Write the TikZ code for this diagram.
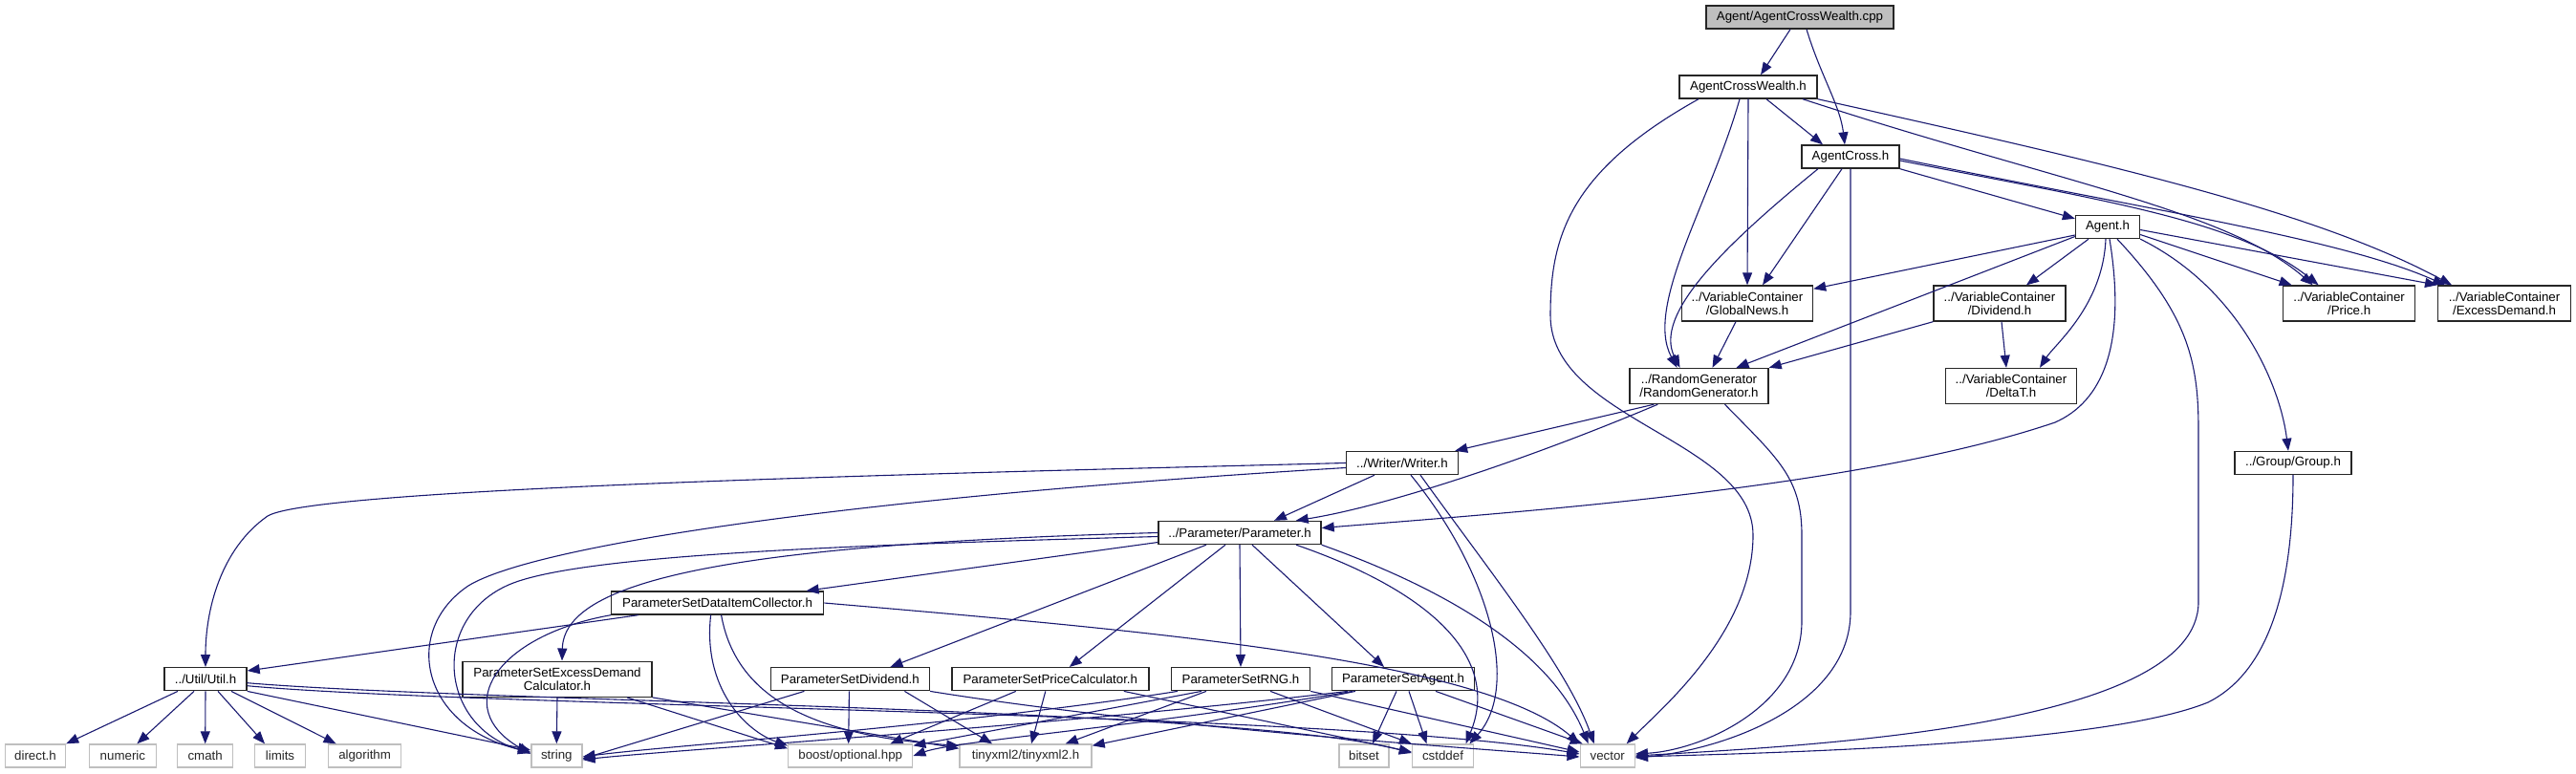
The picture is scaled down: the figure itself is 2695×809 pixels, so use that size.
\documentclass[tikz,border=0pt]{standalone}
\usepackage{fontspec}
\setmainfont{Liberation Sans}
\usetikzlibrary{arrows.meta}
\definecolor{dxEdge}{HTML}{191970}
\definecolor{dxGrey}{HTML}{BFBFBF}
\tikzset{
  dxnode/.style={
    draw, minimum height=24pt, inner sep=2pt, align=center,
    font=\fontsize{13.3}{14}\selectfont, line width=1.4pt
  },
  hdr/.style={dxnode, draw=black!85, fill=white},
  hdrtwo/.style={hdr, minimum height=37pt},
  rootfile/.style={dxnode, draw=black!85, fill=dxGrey},
  sysinc/.style={dxnode, draw=dxGrey, fill=white, text=black!85},
  incl/.style={draw=dxEdge, line width=1.1pt, -{Triangle[length=13pt,width=10pt]}}
}
\begin{document}
\begin{tikzpicture}[x=1pt, y=-1pt]
  \useasboundingbox (0,0) rectangle (2695,809);
  % headers
  \node[rootfile, minimum width=196pt] (root) at (1883,18) {Agent/AgentCrossWealth.cpp};
  \node[hdr, minimum width=144pt] (acw) at (1829,91) {AgentCrossWealth.h};
  \node[hdr, minimum width=102pt] (ac) at (1936,164) {AgentCross.h};
  \node[hdr, minimum width=67pt] (agent) at (2205,237.5) {Agent.h};
  \node[hdrtwo, minimum width=137pt] (gnews) at (1828,317.5) {../VariableContainer\\/GlobalNews.h};
  \node[hdrtwo, minimum width=138pt] (divd) at (2092,317.5) {../VariableContainer\\/Dividend.h};
  \node[hdrtwo, minimum width=138pt] (price) at (2457.6,317.5) {../VariableContainer\\/Price.h};
  \node[hdrtwo, minimum width=139pt] (exdem) at (2620,317.5) {../VariableContainer\\/ExcessDemand.h};
  \node[hdrtwo, minimum width=145pt] (rng) at (1777.5,404) {../RandomGenerator\\/RandomGenerator.h};
  \node[hdrtwo, minimum width=137pt] (deltat) at (2104,404) {../VariableContainer\\/DeltaT.h};
  \node[hdr, minimum width=117pt] (writer) at (1467,484.5) {../Writer/Writer.h};
  \node[hdr, minimum width=122pt] (group) at (2399,484.5) {../Group/Group.h};
  \node[hdr, minimum width=170pt] (param) at (1297,557.5) {../Parameter/Parameter.h};
  \node[hdr, minimum width=222pt] (psdic) at (750.6,631) {ParameterSetDataItemCollector.h};
  \node[hdr, minimum width=86pt] (util) at (215,710.7) {../Util/Util.h};
  \node[hdrtwo, minimum width=198pt] (psedc) at (583,710.7) {ParameterSetExcessDemand\\Calculator.h};
  \node[hdr, minimum width=166pt] (psdiv) at (889.4,710.7) {ParameterSetDividend.h};
  \node[hdr, minimum width=206pt] (pspc) at (1098.8,710.7) {ParameterSetPriceCalculator.h};
  \node[hdr, minimum width=145pt] (psrng) at (1298,710.7) {ParameterSetRNG.h};
  \node[hdr, minimum width=149pt] (psag) at (1468,710.7) {ParameterSetAgent.h};
  % system includes
  \node[sysinc, minimum width=63pt] (directh) at (37,791) {direct.h};
  \node[sysinc, minimum width=70pt] (numeric) at (128.4,791) {numeric};
  \node[sysinc, minimum width=58pt] (cmath) at (214.7,791) {cmath};
  \node[sysinc, minimum width=53pt] (limits) at (293,791) {limits};
  \node[sysinc, minimum width=76pt] (algorithm) at (381.6,791) {algorithm};
  \node[sysinc, minimum width=53pt] (string) at (582.3,791) {string};
  \node[sysinc, minimum width=130pt] (boost) at (889.7,791) {boost/optional.hpp};
  \node[sysinc, minimum width=138pt] (tinyxml) at (1073,791) {tinyxml2/tinyxml2.h};
  \node[sysinc, minimum width=52pt] (bitset) at (1427,791) {bitset};
  \node[sysinc, minimum width=64pt] (cstddef) at (1509.5,791) {cstddef};
  \node[sysinc, minimum width=57pt] (vector) at (1681.7,791) {vector};

  % upper part
  \draw[incl] ([xshift=-10pt]root.south) -- ([xshift=13pt]acw.north);
  \draw[incl] ([xshift=7pt]root.south) .. controls (1905,80) and (1925,110) .. ([xshift=-6pt]ac.north);
  \draw[incl] ([xshift=19pt]acw.south) -- ([xshift=-29pt]ac.north);
  \draw[incl] (acw.south) -- (gnews.north);
  \draw[incl] ([xshift=-9pt]acw.south) .. controls (1790,210) and (1720,320) .. ([xshift=-23pt]rng.north);
  \draw[incl] ([xshift=-52pt]acw.south) .. controls (1640,180) and (1622,250) .. (1622,330)
    .. controls (1622,440) and (1834,460) .. (1834,560)
    .. controls (1834,660) and (1740,740) .. ([xshift=20pt]vector.north);
  \draw[incl] ([xshift=57pt]acw.south) .. controls (2150,190) and (2330,220) .. ([xshift=-38pt]price.north);
  \draw[incl] (acw.south east) .. controls (2200,170) and (2420,220) .. ([xshift=-55pt]exdem.north);
  \draw[incl] (ac.south east) -- ([yshift=-4pt]agent.north west);
  \draw[incl] ([xshift=-9pt]ac.south) -- ([xshift=16pt]gnews.north);
  \draw[incl] ([xshift=-34pt]ac.south) .. controls (1800,260) and (1730,330) .. ([xshift=-20pt]rng.north);
  \draw[incl] (ac.south) -- (1936,640) .. controls (1936,740) and (1800,785) .. ([yshift=-2pt]vector.east);
  \draw[incl] ([yshift=-4pt]ac.east) .. controls (2200,210) and (2340,230) .. ([xshift=-32pt]price.north);
  \draw[incl] ([yshift=-2pt]ac.east) .. controls (2250,220) and (2450,250) .. ([xshift=-62pt]exdem.north);
  \draw[incl] ([yshift=-8.5pt]agent.west) -- ([yshift=-4pt]gnews.north east);
  \draw[incl] ([yshift=-10pt]agent.west) -- ([xshift=39pt]rng.north);
  \draw[incl] ([xshift=-20pt]agent.south) -- ([xshift=28pt]divd.north);
  \draw[incl] ([xshift=-2pt]agent.south) .. controls (2200,320) and (2150,360) .. ([xshift=30pt]deltat.north);
  \draw[incl] ([xshift=2pt]agent.south) .. controls (2225,360) and (2200,420) .. (2150,442)
    .. controls (1950,510) and (1600,535) .. ([yshift=5pt]param.east);
  \draw[incl] ([xshift=10pt]agent.south) .. controls (2290,330) and (2300,380) .. (2300,450)
    -- (2300,630) .. controls (2300,760) and (1900,780) .. (vector.east);
  \draw[incl] (agent.south east) .. controls (2340,300) and (2385,400) .. ([xshift=-5pt]group.north);
  \draw[incl] ([yshift=-8pt]agent.east) -- ([xshift=-60pt]price.north);
  \draw[incl] ([yshift=-3pt]agent.east) -- ([xshift=-70pt]exdem.north);
  \draw[incl] ([xshift=-12pt]gnews.south) -- ([xshift=14pt]rng.north);
  \draw[incl] (divd.south west) -- (rng.north east);
  \draw[incl] ([xshift=2pt]divd.south) -- ([xshift=-5pt]deltat.north);
  \draw[incl] ([xshift=26pt]rng.south west) -- ([xshift=-4pt]writer.north east);
  \draw[incl] ([xshift=30pt]rng.south west) .. controls (1600,480) and (1450,530) .. ([xshift=-27pt]param.north east);
  \draw[incl] ([xshift=27pt]rng.south) .. controls (1860,480) and (1885,500) .. (1885,560)
    -- (1885,650) .. controls (1885,740) and (1780,785) .. ([yshift=2pt]vector.east);
  \draw[incl] (group.south) .. controls (2399,600) and (2380,700) .. (2310,735)
    .. controls (2200,780) and (1850,788) .. ([yshift=-1pt]vector.east);

  % writer and parameter
  \draw[incl] ([xshift=-29pt]writer.south) -- ([xshift=36pt]param.north);
  \draw[incl] (writer.west) .. controls (1000,495) and (330,510) .. (280,540)
    .. controls (230,575) and (215,640) .. (util.north);
  \draw[incl] ([yshift=-5pt]writer.west) .. controls (900,520) and (560,570) .. (490,613)
    .. controls (420,660) and (440,760) .. ([yshift=4pt]string.west);
  \draw[incl] ([xshift=9pt]writer.south) .. controls (1560,600) and (1590,720) .. ([xshift=28pt]cstddef.north);
  \draw[incl] ([xshift=19pt]writer.south) .. controls (1560,600) and (1640,700) .. ([xshift=-14pt]vector.north);
  \draw[incl] ([yshift=-4pt]param.west) .. controls (900,570) and (600,580) .. (530,613)
    .. controls (450,650) and (460,760) .. ([yshift=3pt]string.west);
  \draw[incl] (param.west) .. controls (750,570) and (590,610) .. ([xshift=5pt]psedc.north);
  \draw[incl] ([yshift=-10pt]param.west) -- ([xshift=93pt]psdic.north);
  \draw[incl] ([xshift=-35pt]param.south) -- ([xshift=42pt]psdiv.north);
  \draw[incl] ([xshift=-15pt]param.south) -- ([xshift=20pt]pspc.north);
  \draw[incl] (param.south) -- (psrng.north);
  \draw[incl] ([xshift=13pt]param.south) -- ([xshift=-20pt]psag.north);
  \draw[incl] ([xshift=59pt]param.south) .. controls (1500,620) and (1570,690) .. ([xshift=24pt]cstddef.north);
  \draw[incl] (param.south east) .. controls (1550,630) and (1630,700) .. ([xshift=-20pt]vector.north);

  % parameter sets
  \draw[incl] ([xshift=-83pt]psdic.south) -- ([yshift=-4pt]util.north east);
  \draw[incl] (psdic.south west) .. controls (520,665) and (470,740) .. ([yshift=2pt]string.west);
  \draw[incl] (psdic.east) .. controls (1200,660) and (1550,690) .. (vector.north west);
  \draw[incl] ([xshift=-7pt]psdic.south) .. controls (735,720) and (780,765) .. ([yshift=-2pt]boost.north west);
  \draw[incl] ([xshift=4pt]psdic.south) .. controls (770,730) and (850,770) .. ([yshift=-2pt]tinyxml.north west);
  \draw[incl] (psedc.south) -- (string.north);
  \draw[incl] ([xshift=73pt]psedc.south) -- ([yshift=-5pt]boost.north west);
  \draw[incl] (psedc.south east) -- ([yshift=-5pt]tinyxml.north west);
  \draw[incl] ([xshift=-48pt]psdiv.south) -- ([yshift=-3pt]string.east);
  \draw[incl] ([xshift=-1pt]psdiv.south) -- ([xshift=-2pt]boost.north);
  \draw[incl] ([xshift=57pt]psdiv.south) -- ([xshift=-35pt]tinyxml.north);
  \draw[incl] (psdiv.south east) .. controls (1200,760) and (1500,780) .. ([yshift=-1pt]vector.west);
  \draw[incl] ([xshift=-36pt]pspc.south) -- ([xshift=-24pt]boost.north east);
  \draw[incl] ([xshift=-5pt]pspc.south) -- ([xshift=6pt]tinyxml.north);
  \draw[incl] ([xshift=77pt]pspc.south) -- ([yshift=4pt]cstddef.west);
  \draw[incl] ([xshift=-66pt]psrng.south) .. controls (1000,760) and (700,780) .. ([yshift=-1pt]string.east);
  \draw[incl] ([xshift=-41pt]psrng.south) -- ([yshift=-2pt]boost.north east);
  \draw[incl] ([xshift=-36pt]psrng.south) -- ([xshift=-28pt]tinyxml.north east);
  \draw[incl] ([xshift=31pt]psrng.south) -- (cstddef.north west);
  \draw[incl] (psrng.south east) -- ([yshift=4pt]vector.west);
  \draw[incl] ([xshift=-58pt]psag.south) .. controls (1100,760) and (700,785) .. ([yshift=-4pt]string.east);
  \draw[incl] ([xshift=-53pt]psag.south) .. controls (1200,760) and (1000,775) .. (boost.east);
  \draw[incl] ([xshift=-50pt]psag.south) -- ([yshift=-2pt]tinyxml.north east);
  \draw[incl] ([xshift=-7pt]psag.south) -- ([xshift=9pt]bitset.north);
  \draw[incl] ([xshift=6pt]psag.south) -- ([xshift=-17pt]cstddef.north);
  \draw[incl] ([xshift=34pt]psag.south) -- ([xshift=-26pt]vector.north);

  % util
  \draw[incl] ([xshift=-29pt]util.south) -- (directh.north east);
  \draw[incl] ([xshift=-12pt]util.south) -- ([xshift=15pt]numeric.north);
  \draw[incl] (util.south) -- (cmath.north);
  \draw[incl] ([xshift=13pt]util.south) -- ([xshift=-16pt]limits.north);
  \draw[incl] ([xshift=27pt]util.south) -- ([xshift=-30pt]algorithm.north);
  \draw[incl] (util.south east) -- ([yshift=6pt]string.west);
  \draw[incl] ([yshift=-4pt]util.east) .. controls (500,735) and (1300,740) .. ([yshift=3pt]cstddef.west);
  \draw[incl] ([yshift=-7pt]util.east) .. controls (500,740) and (1400,745) .. ([yshift=2pt]vector.west);
\end{tikzpicture}
\end{document}
